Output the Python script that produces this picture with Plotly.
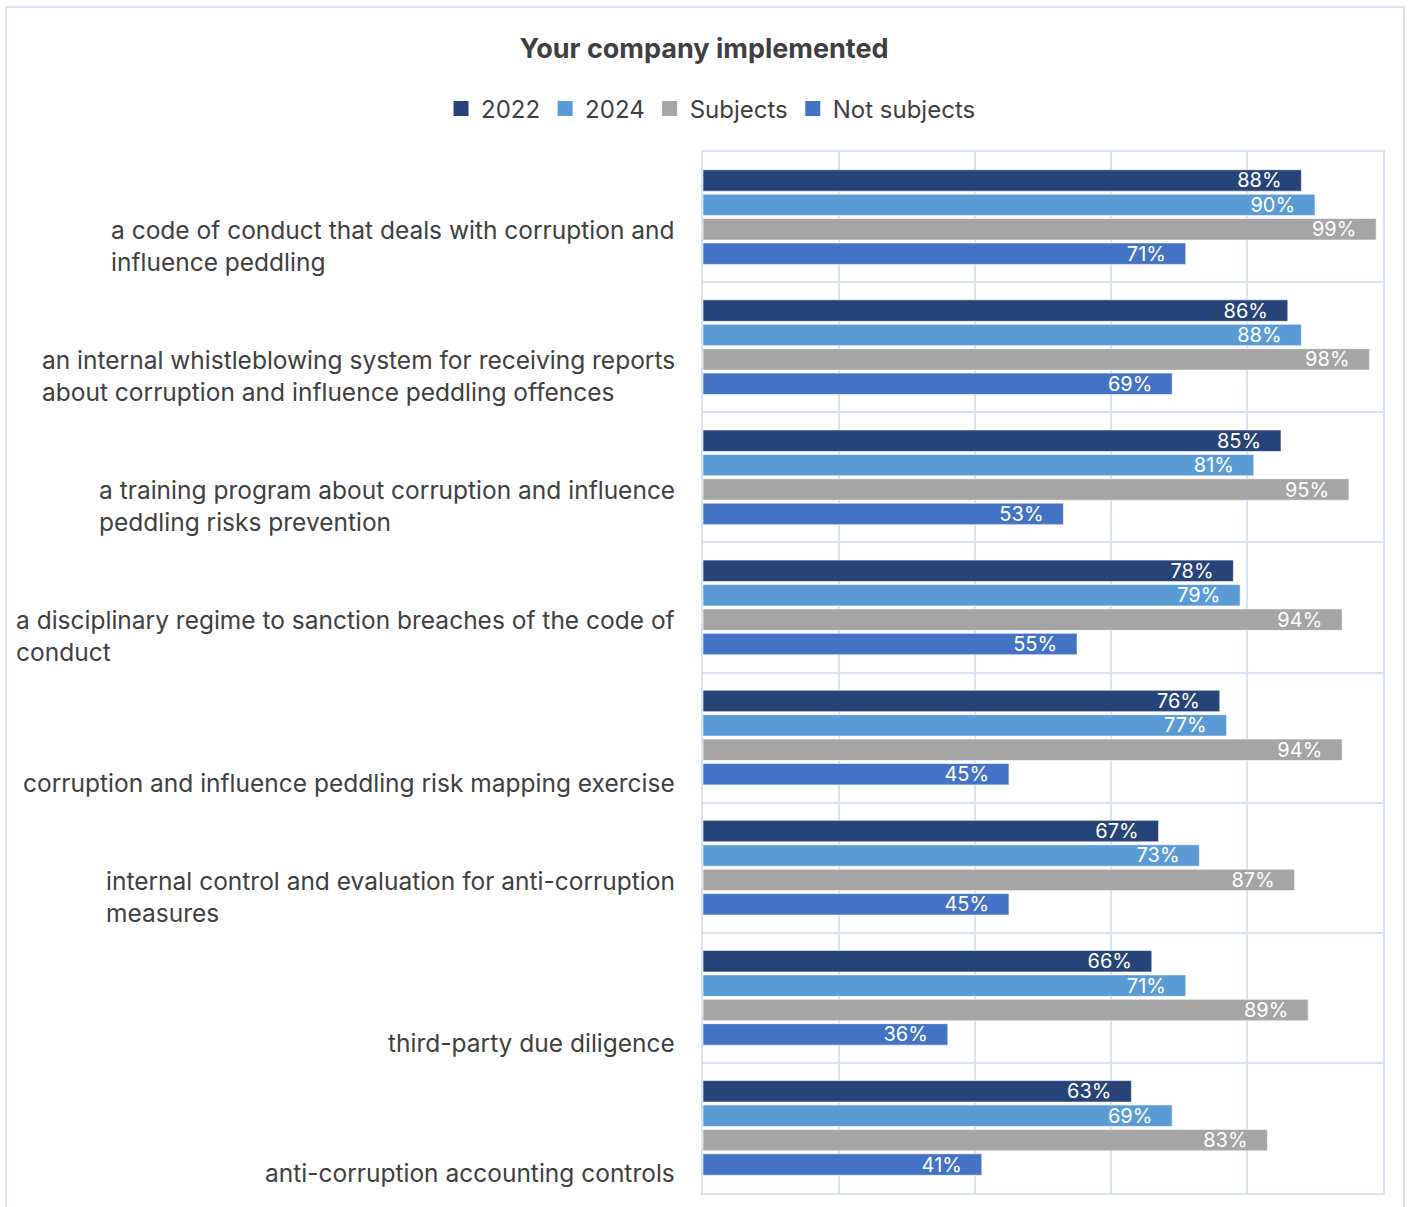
import plotly.graph_objects as go

# Measures implemented, share of companies
categories = [
    "a code of conduct that deals with corruption and<br>influence peddling",
    "an internal whistleblowing system for receiving reports<br>about corruption and influence peddling offences",
    "a training program about corruption and influence<br>peddling risks prevention",
    "a disciplinary regime to sanction breaches of the code of<br>conduct",
    "corruption and influence peddling risk mapping exercise",
    "internal control and evaluation for anti-corruption<br>measures",
    "third-party due diligence",
    "anti-corruption accounting controls",
]
series_names = ["2022", "2024", "Subjects", "Not subjects"]
values_2022 = [0.88, 0.86, 0.85, 0.78, 0.76, 0.67, 0.66, 0.63]
values_2024 = [0.90, 0.88, 0.81, 0.79, 0.77, 0.73, 0.71, 0.69]
values_subjects = [0.99, 0.98, 0.95, 0.94, 0.94, 0.87, 0.89, 0.83]
values_not_subjects = [0.71, 0.69, 0.53, 0.55, 0.45, 0.45, 0.36, 0.41]

series_values = [values_2022, values_2024, values_subjects, values_not_subjects]
colors = ["#264478", "#5B9BD5", "#A5A5A5", "#4472C4"]

FONT = "Inter"
TEXT_COLOR = "#404040"
GRID_COLOR = "#D9E2F3"

W, H = 1408, 1207
ML, MR, MT, MB = 703, 25, 152, 14

fig = go.Figure()
for name, vals, col in zip(series_names, series_values, colors):
    fig.add_trace(go.Bar(
        name=name,
        y=categories,
        x=vals,
        orientation="h",
        marker=dict(color=col, line=dict(color="rgba(255,255,255,0.6)", width=1)),
        text=[f"{round(v * 100)}%\u00a0\u00a0\u00a0" for v in vals],
        textposition="inside",
        insidetextanchor="end",
        textfont=dict(family=FONT, size=20, color="white"),
        cliponaxis=False,
        hoverinfo="skip",
        showlegend=False,
    ))

# Legend entries drawn as square swatches
for name, col in zip(series_names, colors):
    fig.add_trace(go.Scatter(
        name=name, x=[None], y=[None], mode="markers",
        marker=dict(symbol="square", size=15, color=col),
        hoverinfo="skip",
    ))

# Category labels: left-aligned block ending just left of the plot area
annotations = []
for cat in categories:
    annotations.append(dict(
        xref="paper", x=0, xanchor="right", xshift=-26,
        yref="y", y=cat, yanchor="bottom", yshift=-62,
        text=cat, align="left", showarrow=False,
        font=dict(family=FONT, size=24.5, color=TEXT_COLOR),
    ))

pw = W - ML - MR
ph = H - MT - MB
shapes = [dict(
    type="rect", xref="paper", yref="paper",
    x0=(6 - ML) / pw, x1=(1404 - ML) / pw,
    y0=((H - MB) - 1215) / ph, y1=((H - MB) - 7) / ph,
    line=dict(color=GRID_COLOR, width=2), fillcolor="rgba(0,0,0,0)", layer="below",
)]

fig.update_layout(
    width=W, height=H,
    margin=dict(l=ML, r=MR, t=MT, b=MB),
    paper_bgcolor="white", plot_bgcolor="white",
    barmode="group", bargap=0.25, bargroupgap=0.12,
    title=dict(
        text="<b>Your company implemented</b>",
        x=0.5, xref="container", xanchor="center",
        y=1 - 49 / H, yref="container", yanchor="middle",
        font=dict(family=FONT, size=27, color=TEXT_COLOR),
    ),
    legend=dict(
        orientation="h", x=0.505, xref="container", xanchor="center",
        y=1 - 109 / H, yref="container", yanchor="middle",
        font=dict(family=FONT, size=24, color=TEXT_COLOR),
        itemsizing="trace", traceorder="normal", itemwidth=30,
    ),
    xaxis=dict(
        range=[0, 1], tickvals=[0, 0.2, 0.4, 0.6, 0.8, 1.0],
        showticklabels=False, showgrid=True, gridcolor=GRID_COLOR, gridwidth=2,
        zeroline=False, showline=True, linecolor=GRID_COLOR, linewidth=2, mirror=True,
        fixedrange=True,
    ),
    yaxis=dict(
        categoryorder="array", categoryarray=categories, autorange="reversed",
        tickson="boundaries", showgrid=True, gridcolor=GRID_COLOR, gridwidth=2,
        showticklabels=False, ticks="", zeroline=False,
        showline=True, linecolor=GRID_COLOR, linewidth=2, mirror=True,
        fixedrange=True,
    ),
    annotations=annotations,
    shapes=shapes,
    uniformtext=dict(minsize=20, mode="show"),
)

fig.write_html("out.html")
